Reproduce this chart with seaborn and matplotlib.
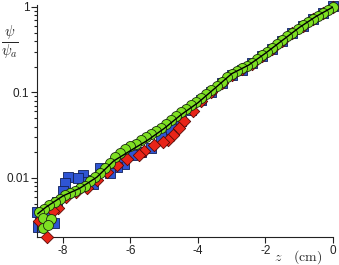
import numpy as np
import matplotlib
matplotlib.use('Agg')
import matplotlib.pyplot as plt
import seaborn as sns
from matplotlib.ticker import FixedLocator, LogLocator, NullFormatter

# Data (z in cm, psi / psi_a)
z_green = [0.00, -0.15, -0.30, -0.45, -0.60, -0.75, -0.90, -1.05, -1.20, -1.35,
           -1.50, -1.65, -1.80, -1.95, -2.10, -2.25, -2.40, -2.55, -2.70, -2.85,
           -3.00, -3.15, -3.30, -3.45, -3.60, -3.75, -3.90, -4.05, -4.20, -4.35,
           -4.50, -4.65, -4.80, -4.95, -5.10, -5.25, -5.40, -5.55, -5.70, -5.85,
           -6.00, -6.15, -6.30, -6.45, -6.60, -6.75, -6.90, -7.05, -7.20, -7.35,
           -7.50, -7.65, -7.80, -7.95, -8.10, -8.25, -8.40, -8.55, -8.70,
           -8.58, -8.37, -8.58, -8.43]
psi_green = [1.000, 0.933, 0.861, 0.794, 0.733, 0.668, 0.610, 0.556, 0.501, 0.452,
             0.407, 0.367, 0.331, 0.299, 0.272, 0.245, 0.224, 0.204, 0.191, 0.178,
             0.166, 0.150, 0.133, 0.120, 0.107, 0.0955, 0.0851, 0.0776, 0.0708, 0.0646,
             0.0589, 0.0537, 0.0479, 0.0427, 0.0389, 0.0355, 0.0324, 0.0302, 0.0275, 0.0251,
             0.0234, 0.0219, 0.0195, 0.0174, 0.0151, 0.0132, 0.0115, 0.0102, 0.00912, 0.00813,
             0.00759, 0.00708, 0.00661, 0.00631, 0.00575, 0.00525, 0.00479, 0.00437, 0.00398,
             0.00339, 0.00331, 0.00257, 0.00282]

z_blue = [0.0, -0.3, -0.6, -0.9, -1.2, -1.5, -1.8, -2.1, -2.4, -2.7,
          -3.0, -3.3, -3.6, -3.9, -4.2, -4.5, -4.8, -5.1, -5.4, -5.7,
          -5.95, -6.2, -6.4, -6.6, -6.9, -7.1, -7.28, -7.40, -7.45, -7.55,
          -7.84, -7.95, -8.0, -8.17, -8.28, -8.5, -8.67, -8.73, -8.76]
psi_blue = [1.02, 0.85, 0.72, 0.60, 0.49, 0.40, 0.32, 0.265, 0.22, 0.185,
            0.158, 0.128, 0.102, 0.082, 0.062, 0.047, 0.037, 0.030, 0.0225, 0.020,
            0.0185, 0.0145, 0.0135, 0.0114, 0.0130, 0.0085, 0.0095, 0.0108, 0.0090, 0.0100,
            0.0102, 0.0088, 0.0070, 0.0053, 0.0030, 0.0038, 0.0032, 0.0027, 0.0040]

z_red = [0.0, -0.3, -0.6, -0.9, -1.2, -1.5, -1.8, -2.1, -2.4, -2.7,
         -3.0, -3.3, -3.6, -3.9, -4.14, -4.4, -4.55, -4.75, -4.9, -5.05,
         -5.3, -5.6, -5.75, -6.1, -6.4, -6.7, -7.0, -7.3, -7.6, -7.9,
         -8.14, -8.3, -8.46, -8.7]
psi_red = [0.99, 0.85, 0.72, 0.60, 0.49, 0.40, 0.325, 0.265, 0.218, 0.187,
           0.160, 0.130, 0.102, 0.080, 0.060, 0.047, 0.038, 0.032, 0.028, 0.0265,
           0.024, 0.0205, 0.0185, 0.0165, 0.014, 0.0118, 0.0095, 0.0077, 0.0068, 0.0060,
           0.0045, 0.0041, 0.00205, 0.0031]

z_fit = [0, -0.5, -1, -1.5, -2, -2.5, -3, -3.5, -4, -4.5,
         -5, -5.5, -6, -6.5, -7, -7.5, -8, -8.5, -8.75]
psi_fit = [1.0, 0.776, 0.575, 0.407, 0.288, 0.209, 0.166, 0.112, 0.0759, 0.0550,
           0.0380, 0.0275, 0.0209, 0.0158, 0.0102, 0.00759, 0.00617, 0.00457, 0.00380]

sns.set_style('ticks')
plt.rcParams['font.family'] = ['Liberation Sans', 'DejaVu Sans']
plt.rcParams['mathtext.fontset'] = 'cm'
plt.rcParams['axes.unicode_minus'] = False

fig = plt.figure(figsize=(3.39, 2.65), dpi=100)
ax = fig.add_axes([37 / 339, 1 - 237 / 265, 296 / 339, 232 / 265])

sns.scatterplot(x=z_blue, y=psi_blue, ax=ax, marker='s', s=50, color='#2f55d4',
                edgecolor='#10205a', linewidth=0.6, clip_on=False, zorder=2)
sns.scatterplot(x=z_red, y=psi_red, ax=ax, marker='D', s=40, color='#e82418',
                edgecolor='#5a0a05', linewidth=0.6, clip_on=False, zorder=3)
sns.scatterplot(x=z_green, y=psi_green, ax=ax, marker='o', s=52, color='#7ee022',
                edgecolor='#1a2a10', linewidth=0.6, clip_on=False, zorder=4)
sns.lineplot(x=z_fit, y=psi_fit, ax=ax, color='black', linewidth=1.0, zorder=5)

ax.set_yscale('log')
ax.set_xlim(-8.77, 0)
ax.set_ylim(0.00204, 1.055)
sns.despine(ax=ax)
for s in ['left', 'bottom']:
    ax.spines[s].set_linewidth(0.8)
    ax.spines[s].set_color('#222222')

ax.xaxis.set_major_locator(FixedLocator([-8, -6, -4, -2, 0]))
ax.set_xticklabels(['-8', '-6', '-4', '-2', '0'])
ax.yaxis.set_major_locator(FixedLocator([0.01, 0.1, 1]))
ax.set_yticklabels(['0.01', '0.1', '1'])
ax.yaxis.set_minor_locator(LogLocator(base=10, subs=np.arange(2, 10)))
ax.yaxis.set_minor_formatter(NullFormatter())
ax.tick_params(axis='both', which='major', direction='out', length=4, width=0.8,
               labelsize=8.5, colors='#222222', pad=1.5)
ax.tick_params(axis='x', which='major', pad=2)
ax.tick_params(axis='y', which='minor', direction='out', length=2.5, width=0.8,
               colors='#222222')
ax.set_xlabel('')
ax.set_ylabel('')

fig.text(278 / 339, 1 - 257 / 265, '$z$', fontsize=10, ha='center', va='center')
fig.text(308 / 339, 1 - 257 / 265, r'$\mathrm{(cm)}$', fontsize=10, ha='center', va='center')
fig.text(10 / 339, 1 - 43 / 265, r'$\frac{\psi}{\psi_a}$', fontsize=15, ha='center', va='center')

fig.savefig('out.png', dpi=100)
